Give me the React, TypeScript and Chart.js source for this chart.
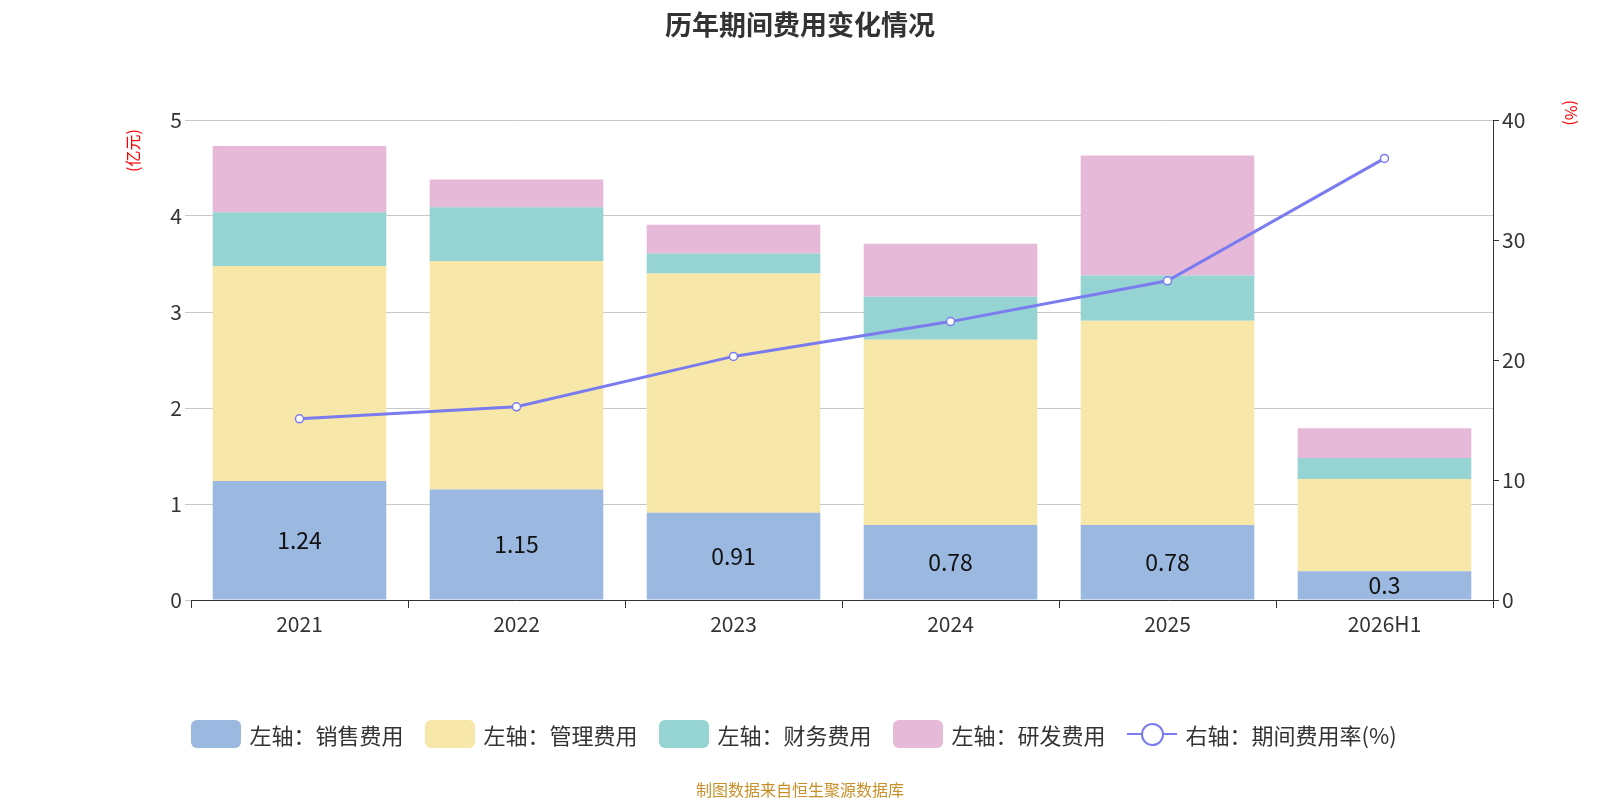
import React, { useEffect, useRef } from "react";
import { Chart, registerables } from "chart.js";
Chart.register(...registerables);

const categories = ["2021", "2022", "2023", "2024", "2025", "2026H1"];
const sales = [1.24, 1.15, 0.91, 0.78, 0.78, 0.3];
const mgmt = [2.24, 2.38, 2.49, 1.93, 2.13, 0.96];
const finance = [0.56, 0.56, 0.21, 0.45, 0.47, 0.22];
const rnd = [0.69, 0.29, 0.3, 0.55, 1.25, 0.31];
const rate = [15.1, 16.1, 20.3, 23.2, 26.6, 36.8];

const FONT = "'Noto Sans CJK SC', 'Noto Sans', sans-serif";
const C = { sales: "#9bb8e0", mgmt: "#f7e7a8", fin: "#96d3d3", rnd: "#e6b9d8", line: "#7b7bf0" };

const labelPlugin = {
  id: "salesLabels",
  afterDatasetsDraw(chart: any) {
    const meta = chart.getDatasetMeta(0);
    const ctx = chart.ctx;
    ctx.save();
    ctx.font = `23px ${FONT}`;
    ctx.fillStyle = "#111";
    ctx.textAlign = "center";
    ctx.textBaseline = "middle";
    meta.data.forEach((b: any, i: number) => {
      ctx.fillText(String(sales[i]), b.x, (b.y + b.base) / 2);
    });
    ctx.restore();
  },
};

export default function App() {
  const ref = useRef<HTMLCanvasElement>(null);
  useEffect(() => {
    document.body.style.margin = "0";
    const bar = (label: string, data: number[], color: string) => ({
      type: "bar" as const, label, data, backgroundColor: color, yAxisID: "y",
      barPercentage: 0.8, categoryPercentage: 1, order: 2,
    });
    const chart = new Chart(ref.current!, {
      type: "bar",
      data: {
        labels: categories,
        datasets: [
          bar("左轴：销售费用", sales, C.sales),
          bar("左轴：管理费用", mgmt, C.mgmt),
          bar("左轴：财务费用", finance, C.fin),
          bar("左轴：研发费用", rnd, C.rnd),
          {
            type: "line" as const, label: "右轴：期间费用率(%)", data: rate, yAxisID: "y1",
            borderColor: C.line, borderWidth: 3, pointRadius: 4, pointBackgroundColor: "#fff",
            pointBorderColor: C.line, pointBorderWidth: 1.5, order: 1,
          } as any,
        ],
      },
      options: {
        animation: false, responsive: false,
        layout: { padding: { left: 100, right: 50, top: 120, bottom: 140 } },
        plugins: { legend: { display: false }, tooltip: { enabled: false } },
        scales: {
          x: {
            stacked: true,
            grid: { display: true, drawOnChartArea: false, tickLength: 8, color: "#333", offset: true },
            border: { color: "#333" },
            ticks: { color: "#333", font: { size: 21, family: FONT } },
            afterFit: (s: any) => { s.height = 60; },
          },
          y: {
            stacked: true, min: 0, max: 5, position: "left",
            ticks: { stepSize: 1, color: "#333", font: { size: 21, family: FONT } },
            grid: { color: "#c8c8c8", tickLength: 6 },
            border: { display: false },
            afterFit: (s: any) => { s.width = 91; },
          },
          y1: {
            min: 0, max: 40, position: "right",
            ticks: { stepSize: 10, color: "#333", font: { size: 21, family: FONT } },
            grid: { drawOnChartArea: false, tickLength: 6, color: "#333" },
            border: { color: "#333" },
            afterFit: (s: any) => { s.width = 57; },
          },
        },
      },
      plugins: [labelPlugin],
    });
    return () => chart.destroy();
  }, []);

  const legendItems = [
    { t: "左轴：销售费用", c: C.sales },
    { t: "左轴：管理费用", c: C.mgmt },
    { t: "左轴：财务费用", c: C.fin },
    { t: "左轴：研发费用", c: C.rnd },
  ];
  return (
    <div style={{ position: "fixed", left: 0, top: 0, width: 1600, height: 800, background: "#fff", fontFamily: FONT }}>
      <canvas ref={ref} width={1600} height={800} style={{ position: "absolute", left: 0, top: 0 }} />
      <div style={{ position: "absolute", top: 4, width: 1600, textAlign: "center", fontSize: 27, fontWeight: "bold", color: "#333" }}>历年期间费用变化情况</div>
      <div style={{ position: "absolute", left: 120, top: 122, color: "red", fontSize: 16, transform: "rotate(-90deg)", transformOrigin: "left top", translate: "0 50px" }}>(亿元)</div>
      <div style={{ position: "absolute", left: 1562, top: 100, color: "red", fontSize: 16, transform: "rotate(90deg)", transformOrigin: "left top", translate: "22px 0" }}>(%)</div>
      <div style={{ position: "absolute", top: 718, left: 0, width: 1588, display: "flex", justifyContent: "center", gap: 22, fontSize: 22, color: "#333", alignItems: "center" }}>
        {legendItems.map((l) => (
          <div key={l.t} style={{ display: "flex", alignItems: "center", gap: 8 }}>
            <span style={{ display: "inline-block", width: 50, height: 28, borderRadius: 6, background: l.c }} />
            <span>{l.t}</span>
          </div>
        ))}
        <div style={{ display: "flex", alignItems: "center", gap: 8 }}>
          <span style={{ position: "relative", display: "inline-block", width: 50, height: 28 }}>
            <span style={{ position: "absolute", left: 0, top: 13, width: 50, height: 2, background: C.line }} />
            <span style={{ position: "absolute", left: 14, top: 3, width: 19, height: 19, borderRadius: "50%", border: `2px solid ${C.line}`, background: "#fff" }} />
          </span>
          <span>右轴：期间费用率(%)</span>
        </div>
      </div>
      <div style={{ position: "absolute", top: 777, width: 1600, textAlign: "center", fontSize: 16, color: "#c8902a" }}>制图数据来自恒生聚源数据库</div>
    </div>
  );
}
